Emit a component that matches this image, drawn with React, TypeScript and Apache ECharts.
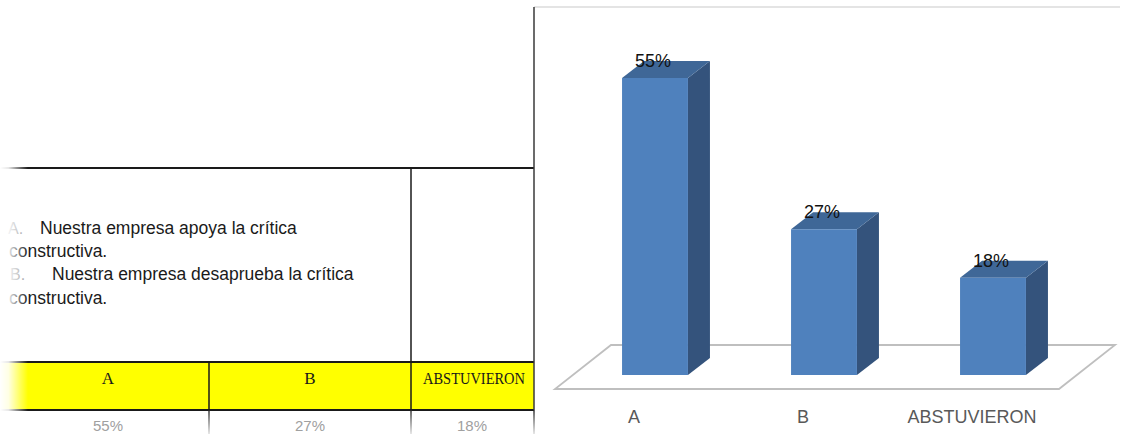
import React, { useEffect, useRef } from 'react';
import * as echarts from 'echarts';

// ---- data ----
const categories = ['A', 'B', 'ABSTUVIERON'];
const percentages = [55, 27, 18];
const valueAxisMin = 0;
const valueAxisMax = 60;
const optionLetters = ['A.', 'B.'];
const optionStatements = [
  'Nuestra empresa apoya la crítica',
  'Nuestra empresa desaprueba la crítica',
];
const statementEnding = 'constructiva.';

const SANS = '"Liberation Sans", Arial, sans-serif';
const SERIF = '"Liberation Serif", "Times New Roman", serif';

export default function App() {
  const ref = useRef<HTMLDivElement>(null);

  useEffect(() => {
    if (!ref.current) return;
    document.body.style.margin = '0';
    document.documentElement.style.margin = '0';
    const chart = echarts.init(ref.current, null, { renderer: 'svg' });

    const FRONT = '#4F81BD';
    const TOP = '#3F6797';
    const SIDE = '#34537C';

    const colCenters = [108, 310, 474];
    const dark = '#1a1a1a';

    const graphics: any[] = [];

    // chart frame
    graphics.push({
      type: 'line', z: 1,
      shape: { x1: 534, y1: 7, x2: 1120, y2: 7 },
      style: { stroke: '#e4e4e4', lineWidth: 2 },
    });
    graphics.push({
      type: 'line', z: 5,
      shape: { x1: 534, y1: 7, x2: 534, y2: 410 },
      style: { stroke: '#3a3a3a', lineWidth: 1.5 },
    });
    // floor
    graphics.push({
      type: 'polygon', z: 1,
      shape: { points: [[555, 389], [1059, 389], [1115, 345], [611, 345]] },
      style: { fill: '#ffffff', stroke: '#BFBFBF', lineWidth: 1.8 },
    });

    // table
    graphics.push({
      type: 'rect', z: 2,
      shape: { x: 0, y: 362, width: 534, height: 48 },
      style: { fill: '#FFFF00' },
    });
    graphics.push({
      type: 'line', z: 3,
      shape: { x1: 0, y1: 168, x2: 534, y2: 168 },
      style: { stroke: dark, lineWidth: 2 },
    });
    graphics.push({
      type: 'line', z: 3,
      shape: { x1: 0, y1: 362, x2: 534, y2: 362 },
      style: { stroke: dark, lineWidth: 2 },
    });
    graphics.push({
      type: 'line', z: 3,
      shape: { x1: 0, y1: 410, x2: 534, y2: 410 },
      style: { stroke: dark, lineWidth: 2 },
    });
    graphics.push({
      type: 'line', z: 3,
      shape: { x1: 411, y1: 168, x2: 411, y2: 410 },
      style: { stroke: dark, lineWidth: 1.5 },
    });
    graphics.push({
      type: 'line', z: 3,
      shape: { x1: 209, y1: 362, x2: 209, y2: 410 },
      style: { stroke: dark, lineWidth: 1.5 },
    });
    [209, 411, 534].forEach((x) => {
      graphics.push({
        type: 'rect', z: 3,
        shape: { x: x - 0.75, y: 410, width: 1.5, height: 24 },
        style: {
          fill: new echarts.graphic.LinearGradient(0, 0, 0, 1, [
            { offset: 0, color: 'rgba(40,40,40,0.95)' },
            { offset: 1, color: 'rgba(40,40,40,0.15)' },
          ]),
        },
      });
    });

    // statements
    const lineYs = [228, 251, 274, 298];
    const letterX = [8, 10];
    const stmtX = [40, 52];
    optionLetters.forEach((letter, i) => {
      graphics.push({
        type: 'text', z: 4,
        style: {
          text: letter, x: letterX[i], y: lineYs[i * 2],
          fill: '#9a9a9a', fontSize: 16, fontFamily: SANS, verticalAlign: 'middle',
        },
      });
      graphics.push({
        type: 'text', z: 4,
        style: {
          text: optionStatements[i], x: stmtX[i], y: lineYs[i * 2],
          fill: dark, fontSize: 17.5, fontFamily: SANS, verticalAlign: 'middle',
        },
      });
      graphics.push({
        type: 'text', z: 4,
        style: {
          text: statementEnding, x: 9, y: lineYs[i * 2 + 1],
          fill: dark, fontSize: 17.5, fontFamily: SANS, verticalAlign: 'middle',
        },
      });
    });

    // header and value rows
    categories.forEach((c, i) => {
      const long = c.length > 2;
      graphics.push({
        type: 'text', z: 4,
        x: colCenters[i], y: 378,
        scaleX: long ? 0.85 : 1,
        style: {
          text: c, x: 0, y: 0,
          fill: '#1a1a1a', fontSize: 17, fontFamily: SERIF,
          align: 'center', verticalAlign: 'middle',
        },
      });
      graphics.push({
        type: 'text', z: 4,
        style: {
          text: percentages[i] + '%', x: i === 2 ? 472 : colCenters[i], y: 425,
          fill: '#a0a0a0', fontSize: 15, fontFamily: SANS,
          align: 'center', verticalAlign: 'middle',
        },
      });
    });

    // left fade
    graphics.push({
      type: 'rect', z: 6,
      shape: { x: 0, y: 150, width: 28, height: 284 },
      style: {
        fill: new echarts.graphic.LinearGradient(0, 0, 1, 0, [
          { offset: 0, color: 'rgba(255,255,255,1)' },
          { offset: 0.3, color: 'rgba(255,255,255,0.9)' },
          { offset: 1, color: 'rgba(255,255,255,0)' },
        ]),
      },
    });

    const option: any = {
      animation: false,
      backgroundColor: '#ffffff',
      tooltip: { show: false },
      grid: { left: 570.5, width: 507, top: 51, height: 324 },
      xAxis: {
        type: 'category',
        data: categories,
        axisLine: { show: false },
        axisTick: { show: false },
        splitLine: { show: false },
        axisLabel: {
          margin: 42,
          verticalAlign: 'middle',
          fontSize: 18,
          fontFamily: SANS,
          color: '#595959',
          padding: [0, 42, 0, 0],
        },
      },
      yAxis: {
        type: 'value',
        min: valueAxisMin,
        max: valueAxisMax,
        show: false,
      },
      graphic: { elements: graphics },
      series: [
        {
          type: 'custom',
          z: 10,
          clip: false,
          encode: { x: 0, y: 1 },
          data: categories.map((c, i) => [i, percentages[i]]),
          renderItem: (params: any, api: any) => {
            const idx = api.value(0);
            const val = api.value(1);
            const top = api.coord([idx, val]);
            const base = api.coord([idx, 0]);
            const band = api.size([1, 0])[0];
            const bw = band * 0.39;
            const dx = 22;
            const dy = 17;
            const x0 = top[0] - bw / 2;
            const x1 = top[0] + bw / 2;
            const yt = top[1];
            const yb = base[1];
            return {
              type: 'group',
              children: [
                {
                  type: 'polygon',
                  shape: { points: [[x1, yt], [x1 + dx, yt - dy], [x1 + dx, yb - dy], [x1, yb]] },
                  style: { fill: SIDE },
                },
                {
                  type: 'polygon',
                  shape: { points: [[x0, yt], [x1, yt], [x1 + dx, yt - dy], [x0 + dx, yt - dy]] },
                  style: { fill: TOP },
                },
                {
                  type: 'polygon',
                  shape: { points: [[x0, yt], [x1, yt], [x1, yb], [x0, yb]] },
                  style: { fill: FRONT },
                },
                {
                  type: 'text',
                  style: {
                    text: val + '%',
                    x: top[0] - 2,
                    y: yt - dy,
                    fill: '#111111',
                    fontSize: 18,
                    fontFamily: SANS,
                    align: 'center',
                    verticalAlign: 'middle',
                  },
                },
              ],
            };
          },
        },
      ],
    };

    chart.setOption(option);
    return () => chart.dispose();
  }, []);

  return <div ref={ref} style={{ width: 1124, height: 434, background: '#fff' }} />;
}
